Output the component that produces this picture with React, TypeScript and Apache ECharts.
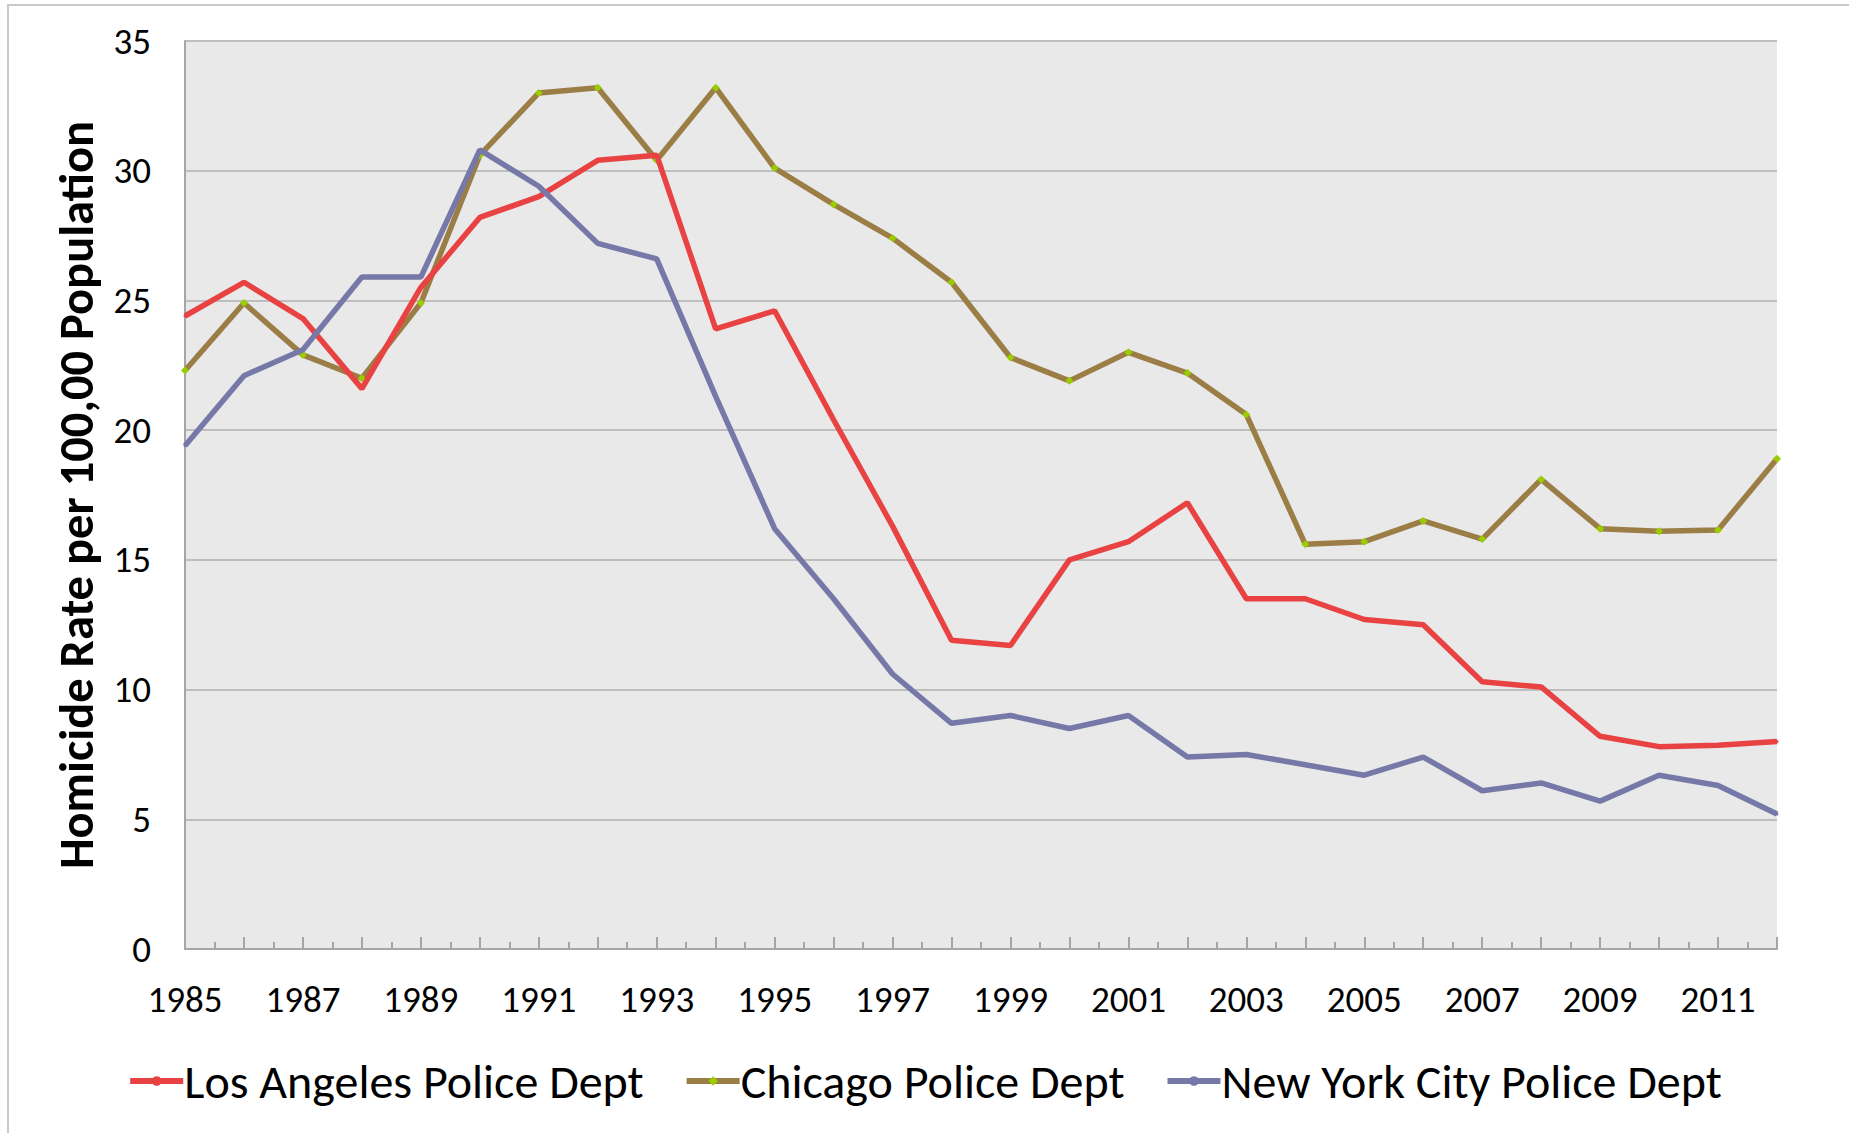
import React, { useEffect, useRef } from "react";
import * as echarts from "echarts";

const years = [1985,1986,1987,1988,1989,1990,1991,1992,1993,1994,1995,1996,1997,1998,1999,2000,2001,2002,2003,2004,2005,2006,2007,2008,2009,2010,2011,2012];
const laValues = [24.4,25.7,24.3,21.6,25.5,28.2,29.0,30.4,30.6,23.9,24.6,20.4,16.3,11.9,11.7,15.0,15.7,17.2,13.5,13.5,12.7,12.5,10.3,10.1,8.2,7.8,7.85,8.0];
const chicagoValues = [22.3,24.9,22.9,22.0,24.9,30.6,33.0,33.2,30.4,33.2,30.1,28.7,27.4,25.7,22.8,21.9,23.0,22.2,20.6,15.6,15.7,16.5,15.8,18.1,16.2,16.1,16.15,18.9];
const nycValues = [19.4,22.1,23.1,25.9,25.9,30.8,29.4,27.2,26.6,21.3,16.2,13.5,10.6,8.7,9.0,8.5,9.0,7.4,7.5,7.1,6.7,7.4,6.1,6.4,5.7,6.7,6.3,5.2];
const seriesNames = ["Los Angeles Police Dept", "Chicago Police Dept", "New York City Police Dept"];
const yAxisTitle = "Homicide Rate per 100,00 Population";

const FONT = "Calibri, Carlito, Lato, 'Open Sans', sans-serif";

export default function App() {
  const ref = useRef<HTMLDivElement>(null);
  useEffect(() => {
    if (!ref.current) return;
    const chart = echarts.init(ref.current, null, { renderer: "svg" });
    const pairs = (vals: number[]) => years.map((y, i) => [y, vals[i]]);
    chart.setOption({
      animation: false,
      backgroundColor: "#ffffff",
      graphic: [
        {
          type: "rect",
          z: -10,
          silent: true,
          shape: { x: 8, y: 5, width: 1900, height: 1200 },
          style: { fill: "none", stroke: "#C9C9C9", lineWidth: 2 },
        },
      ],
      grid: {
        left: 185,
        right: 72,
        top: 41,
        bottom: 184,
        show: true,
        backgroundColor: "#E9E9E9",
        borderWidth: 0,
      },
      legend: {
        bottom: 23,
        left: "center",
        itemWidth: 53,
        itemHeight: 12,
        itemGap: 40,
        lineStyle: { width: 6 },
        textStyle: { fontFamily: FONT, fontSize: 48, color: "#000", padding: [0, 0, 0, -4] },
        data: seriesNames,
      },
      xAxis: {
        type: "value",
        min: 1985,
        max: 2012,
        interval: 1,
        axisLine: { show: true, onZero: false, lineStyle: { color: "#A6A6A6", width: 2 } },
        axisTick: { show: true, inside: true, length: 12, lineStyle: { color: "#A6A6A6", width: 2 } },
        minorTick: { show: true, splitNumber: 2, length: 7, lineStyle: { color: "#A6A6A6", width: 2 } },
        splitLine: { show: false },
        axisLabel: {
          margin: 32,
          fontFamily: FONT,
          fontSize: 37,
          color: "#000",
          showMaxLabel: true,
          formatter: (v: number) => (v % 2 === 1 ? String(v) : ""),
        },
      },
      yAxis: {
        type: "value",
        min: 0,
        max: 35,
        interval: 5,
        name: yAxisTitle,
        nameLocation: "middle",
        nameGap: 84,
        nameTextStyle: { fontFamily: FONT, fontSize: 48.5, fontWeight: "bold", color: "#000" },
        axisLine: { show: true, lineStyle: { color: "#A6A6A6", width: 2 } },
        axisTick: { show: false },
        splitLine: { show: true, lineStyle: { color: "#BEBEBE", width: 2 } },
        axisLabel: { margin: 34, fontFamily: FONT, fontSize: 37, color: "#000" },
      },
      series: [
        {
          name: seriesNames[0],
          type: "line",
          data: pairs(laValues),
          symbol: "circle",
          symbolSize: 3,
          itemStyle: { color: "#E84242" },
          lineStyle: { color: "#E84242", width: 5.5 },
          z: 4,
        },
        {
          name: seriesNames[1],
          type: "line",
          data: pairs(chicagoValues),
          symbol: "diamond",
          symbolSize: 8,
          itemStyle: { color: "#9ACD00", borderWidth: 0 },
          lineStyle: { color: "#9B7D46", width: 5.5 },
          z: 3,
        },
        {
          name: seriesNames[2],
          type: "line",
          data: pairs(nycValues),
          symbol: "circle",
          symbolSize: 3,
          itemStyle: { color: "#7679A8" },
          lineStyle: { color: "#7679A8", width: 5.5 },
          z: 5,
        },
      ],
    });
    return () => chart.dispose();
  }, []);
  return (
    <div
      ref={ref}
      style={{ position: "fixed", left: 0, top: 0, width: "1849px", height: "1133px" }}
    />
  );
}
